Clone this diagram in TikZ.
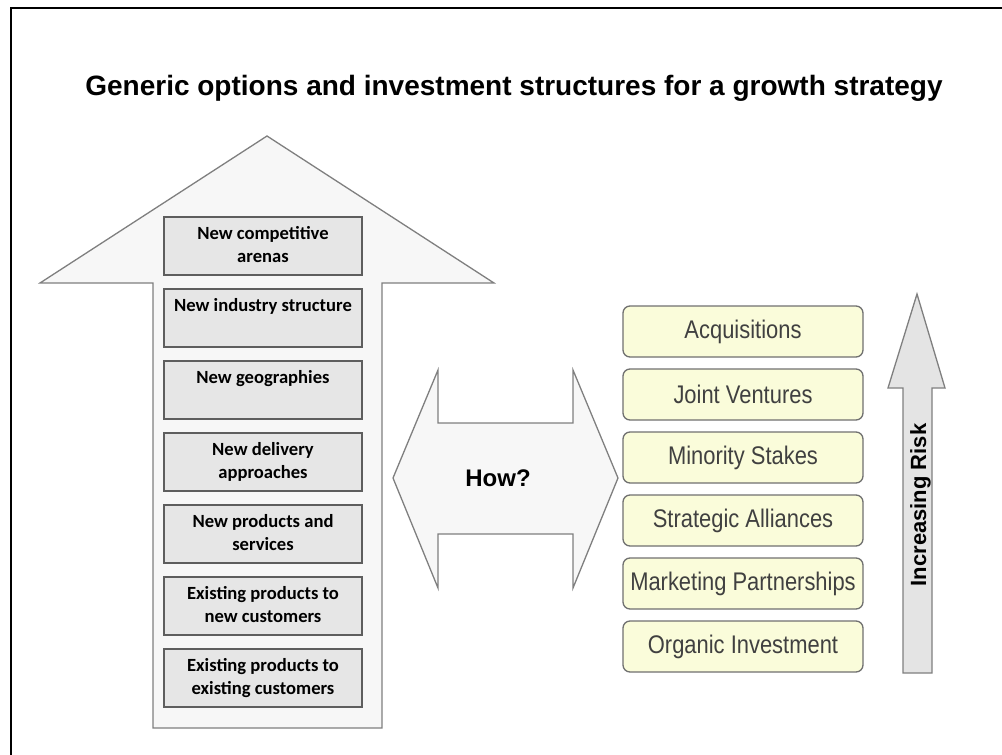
\documentclass[tikz,border=0pt]{standalone}
\usepackage{fontspec}
\setmainfont{Liberation Sans}
\newfontfamily\stagefont{Carlito}
\newfontfamily\routefont[FakeStretch=0.86]{Liberation Sans}
\usepackage{tikz}
\usetikzlibrary{positioning}

\definecolor{framegray}{HTML}{7F7F7F}
\definecolor{stagefill}{HTML}{E6E6E6}
\definecolor{stageline}{HTML}{5E5E5E}
\definecolor{routefill}{HTML}{FAFCDA}
\definecolor{routeline}{HTML}{707070}
\definecolor{riskfill}{HTML}{E4E4E4}

\newcommand{\stagetext}[2]{#1\strut\\#2\strut}

\begin{document}
\begin{tikzpicture}[x=1pt, y=-1pt,
	bigarrow/.style={draw=framegray, fill=black!3, line width=1.3pt, line join=miter},
	stage/.style={draw=stageline, fill=stagefill, line width=1.5pt, outer sep=0pt, inner sep=0pt,
		minimum width=198pt, minimum height=58pt, align=center,
		font=\stagefont\bfseries\fontsize{18.6}{23}\selectfont},
	route/.style={draw=routeline, fill=routefill, line width=1.3pt, rounded corners=7pt, outer sep=0pt,
		inner sep=0pt, minimum width=240pt, minimum height=51pt, text=black!75,
		font=\routefont\fontsize{25.5}{28}\selectfont},
	node distance=14pt]

	\useasboundingbox (0,0) rectangle (1002,755);
	% frame
	\draw[line width=2pt] (11,755) -- (11,8) -- (1002,8);

	\node[font=\bfseries\fontsize{28}{32}\selectfont] (title) at (514,88)
		{Generic options and investment structures for a growth strategy};

	% growth options
	\draw[bigarrow] (267,136) -- (494,283) -- (382,283) -- (382,728) -- (153,728) -- (153,283) -- (40,283) -- cycle;
	\node[stage] (arenas) at (263,246) {\stagetext{New competitive}{arenas}};
	\node[stage, below=of arenas] (industry) {\stagetext{New industry structure}{}};
	\node[stage, below=of industry] (geo) {\stagetext{New geographies}{}};
	\node[stage, below=of geo] (delivery) {\stagetext{New delivery}{approaches}};
	\node[stage, below=of delivery] (products) {\stagetext{New products and}{services}};
	\node[stage, below=of products] (newcust) {\stagetext{Existing products to}{new customers}};
	\node[stage, below=of newcust] (existcust) {\stagetext{Existing products to}{existing customers}};

	% how
	\draw[bigarrow] (393,478) -- (438,370) -- (438,423) -- (573,423) -- (573,370) -- (618,478)
		-- (573,588) -- (573,534) -- (438,534) -- (438,588) -- cycle;
	\node[font=\bfseries\fontsize{24}{28}\selectfont] (how) at (498,478) {How?};

	% investment structures
	\node[route] (acq) at (743,331.5) {Acquisitions};
	\node[route, below=12pt of acq] (jv) {Joint Ventures};
	\node[route, below=12pt of jv] (minority) {Minority Stakes};
	\node[route, below=12pt of minority] (alliance) {Strategic Alliances};
	\node[route, below=12pt of alliance] (marketing) {Marketing Partnerships};
	\node[route, below=12pt of marketing] (organic) {Organic Investment};

	% risk
	\draw[bigarrow, fill=riskfill] (917,294) -- (945,388) -- (932,388) -- (932,673) -- (903,673) -- (903,388) -- (888,388) -- cycle;
	\node[rotate=90, anchor=base, font=\bfseries\fontsize{22}{26}\selectfont] (risk) at (926,505) {Increasing Risk};
\end{tikzpicture}
\end{document}
